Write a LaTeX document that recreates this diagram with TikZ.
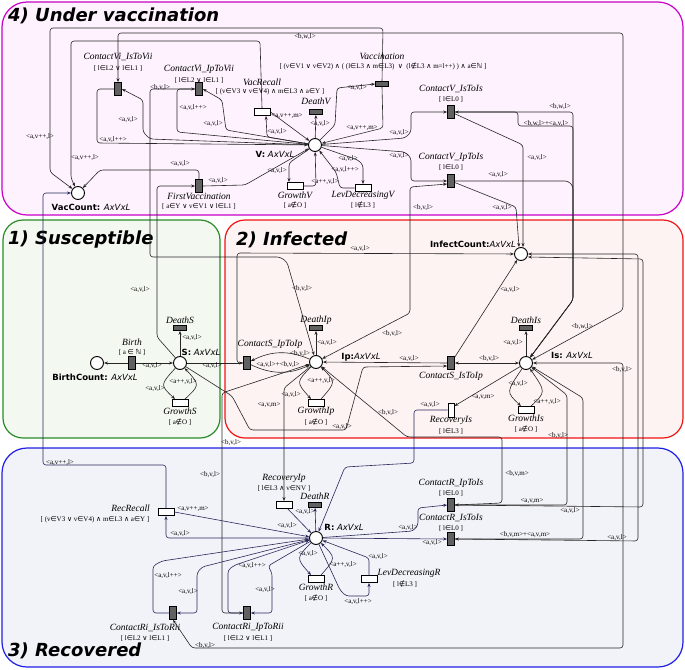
\documentclass[tikz,border=0pt]{standalone}
\usepackage{fontspec}
\setmainfont{Liberation Serif}
\setsansfont{DejaVu Sans}
\newfontfamily\symf{DejaVu Sans}
\usetikzlibrary{arrows.meta}
\newcommand{\xIn}{{\symf ∈}}
\newcommand{\xNin}{{\symf ∉}}
\newcommand{\xOr}{{\symf ∨}}
\newcommand{\xAnd}{{\symf ∧}}
\newcommand{\xNat}{{\symf ℕ}}
\newcommand{\AL}[3]{\node[al] (#1) at (#2) {#3};}
\definecolor{mag}{RGB}{200,0,200}
\definecolor{magf}{RGB}{253,242,253}
\definecolor{grn}{RGB}{40,140,40}
\definecolor{grnf}{RGB}{243,248,241}
\definecolor{rd}{RGB}{240,20,20}
\definecolor{rdf}{RGB}{253,243,243}
\definecolor{bl}{RGB}{30,30,230}
\definecolor{blf}{RGB}{242,242,249}
\definecolor{nav}{RGB}{40,40,90}
\begin{document}
\begin{tikzpicture}[x=1pt,y=-1pt,>={Stealth[length=4pt,width=3pt]},
 every node/.style={inner sep=0pt},
 pl/.style={circle,draw,fill=white,line width=0.9pt,minimum size=13pt},
 tv/.style={draw,fill=black!62,line width=0.7pt,minimum width=7pt,minimum height=13pt},
 th/.style={draw,fill=black!62,line width=0.7pt,minimum width=13pt,minimum height=5pt},
 tw/.style={draw,fill=white,line width=0.9pt,minimum width=16pt,minimum height=7pt},
 twv/.style={draw,fill=white,line width=0.9pt,minimum width=6pt,minimum height=14pt},
 cn/.style={->,draw=black!85,line width=0.6pt,rounded corners=3pt},
 cnb/.style={<->,draw=black!85,line width=0.6pt,rounded corners=3pt},
 cr/.style={cn,draw=nav},
 crb/.style={cnb,draw=nav},
 al/.style={font=\fontsize{7}{7}\selectfont},
 tn/.style={font=\fontsize{9.5}{9.5}\selectfont\itshape},
 gd/.style={font=\fontsize{7}{7}\selectfont},
 pn/.style={font=\sffamily\fontsize{8.5}{8.5}\selectfont},
 ttl/.style={font=\sffamily\bfseries\itshape\fontsize{18}{18}\selectfont,anchor=west}]
\useasboundingbox (0,0) rectangle (685,669);
% regions
\draw[draw=mag,fill=magf,line width=1.2pt,rounded corners=25pt] (2,2) rectangle (683,215);
\draw[draw=grn,fill=grnf,line width=1.2pt,rounded corners=20pt] (3,220) rectangle (220,438);
\draw[draw=rd,fill=rdf,line width=1.2pt,rounded corners=20pt] (225,220) rectangle (683,438);
\draw[draw=bl,fill=blf,line width=1.2pt,rounded corners=25pt] (2,448) rectangle (683,667);
\node[ttl] (t4) at (8,16) {4) Under vaccination};
\node[ttl] (t1) at (8,240) {1) Susceptible};
\node[ttl] (t2) at (236,240) {2) Infected};
\node[ttl] (t3) at (8,651) {3) Recovered};
% places
\node[pl] (V) at (315,145) {};
\node[pl] (VacCount) at (78,193) {};
\node[pl] (S) at (180,363) {};
\node[pl] (BirthCount) at (97,363) {};
\node[pl] (Ip) at (316,362) {};
\node[pl] (Is) at (526,363) {};
\node[pl] (InfectCount) at (521,254) {};
\node[pl] (R) at (316,538) {};
% transitions
\node[tv] (cViIs) at (118,89) {};
\node[tv] (cViIp) at (199,89) {};
\node[tw] (VacRecall) at (262,112) {};
\node[th] (DeathV) at (316,112) {};
\node[th] (Vacc) at (382,84) {};
\node[tv] (FirstVacc) at (199,186) {};
\node[tw] (GrowthV) at (295,186) {};
\node[tw] (LevDecV) at (363,188) {};
\node[tv] (cVIs) at (451,112) {};
\node[tv] (cVIp) at (451,181) {};
\node[tv] (Birth) at (132,363) {};
\node[th] (DeathS) at (180,328) {};
\node[tw] (GrowthS) at (180,403) {};
\node[tv] (cSIp) at (247,363) {};
\node[th] (DeathIp) at (316,328) {};
\node[tw] (GrowthIp) at (316,403) {};
\node[tv] (cSIs) at (451,363) {};
\node[th] (DeathIs) at (526,328) {};
\node[tw] (GrowthIs) at (526,410) {};
\node[twv] (RecIs) at (451,410) {};
\node[tw] (RecIp) at (284,505) {};
\node[th] (DeathR) at (315,505) {};
\node[tw] (RecRecall) at (166,512) {};
\node[tw] (GrowthR) at (316,579) {};
\node[tw] (LevDecR) at (369,579) {};
\node[tv] (cRiIs) at (173,613) {};
\node[tv] (cRiIp) at (247,613) {};
\node[tv] (cRIp) at (451,505) {};
\node[tv] (cRIs) at (451,539) {};
% ---- connectors: region 4
\draw[cn] (V) -- (150,139) -- (143,132) -- (143,100) -- (cViIs.east);
\draw[cn] (cViIs.west) -- (97,89) -- (97,143) -- (V);
\draw[cnb] (Is) -- (623,310) -- (623,33) -- (118,33) -- (cViIs.north);
\draw[cn] (cViIp.west) -- (177,89) -- (177,132) -- (V);
\draw[cn] (V) -- (226,130) -- (222,100) -- (cViIp.east);
\draw[cnb] (Ip) -- (287,262) -- (280,257) -- (150,257) -- (150,89) -- (cViIp.west);
\draw[cn] (V) -- (335,125) -- (337,88) -- (Vacc.west);
\draw[cn] (Vacc.south) -- (383,128) -- (V);
\draw[cn] (Vacc.north) -- (383,28) -- (50,28) -- (50,172) -- (VacCount);
\draw[cn] (V) -- (267,137) -- ([xshift=4pt]VacRecall.south);
\draw[cn] (VacRecall.east) -- (V);
\draw[cn] (VacRecall.north) -- (260,41) -- (71,41) -- (71,178) -- (VacCount);
\draw[cn] (V) -- (DeathV);
\draw[cn] (FirstVacc.east) -- (245,185) -- (V);
\draw[cn] (FirstVacc.north) -- (199,170) -- (100,170) -- (VacCount);
\draw[cn] (S) -- (157,337) -- (157,186) -- (FirstVacc.west);
\draw[cn] (V) -- (289,163) -- ([xshift=-6pt]GrowthV.north);
\draw[cn] (GrowthV.east) -- (316,186) -- (V);
\draw[cn] (V) -- (358,160) -- (363,165) -- (LevDecV.north);
\draw[cn] (LevDecV.west) -- (340,188) -- (336,172) -- (V);
\draw[cn] (V) -- (405,138) -- (411,132) -- (411,112) -- (cVIs.west);
\draw[cnb] (Is) -- (573,300) -- (573,112) -- (cVIs.east);
\draw[cn] (cVIs.east) -- (518,112) -- (518,126) -- (573,126) -- (573,300) -- (Is);
\draw[cn] (cVIs) -- (523,145) -- ([xshift=2pt]InfectCount.north);
\draw[cn] (V) -- (405,152) -- (411,158) -- (411,181) -- (cVIp.west);
\draw[cnb] (Ip) -- (410,313) -- (410,187) -- ([yshift=-3pt]cVIp.west);
\draw[cn] (cVIp.east) -- (568,181) -- (573,186) -- (573,300) -- (Is);
\draw[cn] (cVIp) -- (516,207) -- ([xshift=-2pt]InfectCount.north);
% ---- region 1 / 2
\draw[cn] (Birth) -- (BirthCount);
\draw[cn] (Birth) -- (S);
\draw[cn] (S) -- (DeathS);
\draw[cn] (S) .. controls (160,385) .. ([xshift=-5pt]GrowthS.north);
\draw[cn] ([xshift=5pt]GrowthS.north) .. controls (200,385) .. (S);
\draw[cn] (S) -- (cSIp.west);
\draw[cn] (cSIp.west) -- (237,363) -- (237,253) -- (InfectCount);
\draw[cn] (Ip) to[bend right=25] (cSIp);
\draw[cn] (cSIp) to[bend right=25] (Ip);
\draw[cn] (Ip) -- (DeathIp);
\draw[cn] (Ip) .. controls (296,382) .. ([xshift=-5pt]GrowthIp.north);
\draw[cn] ([xshift=5pt]GrowthIp.north) .. controls (336,382) .. (Ip);
\draw[cn] (cSIs.west) -- (Ip);
\draw[cnb] (Is) -- (cSIs.east);
\draw[cn] (cSIs) -- (InfectCount);
\draw[cn] (S) -- (232,396) -- (250,430) -- (346,430) -- (363,367) -- ([yshift=-3pt]cSIs.west);
\draw[cn] (Is) -- (DeathIs);
\draw[cn] (Is) .. controls (506,392) .. ([xshift=-5pt]GrowthIs.north);
\draw[cn] ([xshift=5pt]GrowthIs.north) .. controls (546,392) .. (Is);
\draw[cn] (Is) -- ([yshift=4pt]RecIs.east);
\draw[cr] (RecIs.west) -- (414,410) -- (414,463) -- (345,467) -- (R);
\draw[cnb] (Is) -- (623,363) -- (623,648) -- (192,648) -- (cRiIs.south);
\draw[cn] (cRIp.east) -- (567,505) -- (567,395) -- (Is);
\draw[cnb] (cRIs.east) -- (583,539) -- (583,398) -- (Is);
\draw[cn] (cRIp.east) -- (643,507) -- (643,259) -- ([yshift=-3pt]InfectCount.east);
\draw[cn] (cRIs.east) -- (638,541) -- (638,254) -- (InfectCount.east);
\draw[cnb] (Ip) -- (407,437) -- (502,437) -- (502,503) -- (cRIp.east);
\draw[cn] (Ip) -- (284,388) -- (RecIp.north);
\draw[cnb] (Ip) -- (222,393) -- (222,613) -- (cRiIp.west);
% ---- region 3
\draw[cr] (RecIp) -- (R);
\draw[cr] (R) -- (DeathR);
\draw[cr] (RecRecall.east) -- (R);
\draw[cr] (R) -- (166,538) -- (RecRecall.south);
\draw[cr] (RecRecall.north) -- (166,465) -- (43,465) -- (43,193) -- (VacCount);
\draw[cr] (R) .. controls (296,558) .. ([xshift=-5pt]GrowthR.north);
\draw[cr] ([xshift=5pt]GrowthR.north) .. controls (336,558) .. (R);
\draw[cr] (R) -- (340,590) -- (346,596) -- (369,596) -- (LevDecR.south);
\draw[cr] (LevDecR.north) -- (369,558) -- (R);
\draw[cr] (cRiIs.west) -- (153,613) -- (153,566) -- (162,561) -- (R);
\draw[cr] (R) -- (202,567) -- (197,573) -- (197,613) -- (cRiIs.east);
\draw[cr] (cRiIp.west) -- (228,613) -- (228,570) -- (235,565) -- (R);
\draw[cr] (R) -- (268,566) -- (272,573) -- (272,613) -- (cRiIp.east);
\draw[cr] (R) -- (413,531) -- (418,525) -- (418,508) -- (cRIp.west);
\draw[cr] (R) -- (cRIs.west);
% ---- transition names and guards
\node[tn] (n1) at (118,57) {ContactVi\_IsToVii};
\node[gd] (g1) at (118,68) {[ l\xIn L2 \xOr{} l\xIn L1 ]};
\node[tn] (n2) at (199,69) {ContactVi\_IpToVii};
\node[gd] (g2) at (199,80) {[ l\xIn L2 \xOr{} l\xIn L1 ]};
\node[tn] (n3) at (262,82) {VacRecall};
\node[gd] (g3) at (270,92) {[ (v\xIn V3 \xOr{} v\xIn V4) \xAnd{} m\xIn L3 \xAnd{} a\xIn Y ]};
\node[tn] (n4) at (316,101) {DeathV};
\node[tn] (n5) at (382,56) {Vaccination};
\node[gd] (g5) at (383,66.5) {[ (v\xIn V1 \xOr{} v\xIn V2) \xAnd{} ( (l\xIn L3 \xAnd{} m\xIn L3) \ \xOr\ \ (l\xNin L3 \xAnd{} m=l++) ) \xAnd{} a\xIn\xNat{} ]};
\node[tn] (n6) at (199,196) {FirstVaccination};
\node[gd] (g6) at (199,206.5) {[ a\xIn Y \xOr{} v\xIn V1 \xOr{} l\xIn L1 ]};
\node[tn] (n7) at (295,195) {GrowthV};
\node[gd] (g7) at (295,205.5) {[ a\xNin O ]};
\node[tn] (n8) at (363,195) {LevDecreasingV};
\node[gd] (g8) at (363,205.5) {[ l\xNin L3 ]};
\node[tn] (n9) at (451,89) {ContactV\_IsToIs};
\node[gd] (g9) at (451,99.5) {[ l\xIn L0 ]};
\node[tn] (n10) at (451,157) {ContactV\_IpToIs};
\node[gd] (g10) at (451,167.5) {[ l\xIn L0 ]};
\node[tn] (n11) at (132,342) {Birth};
\node[gd] (g11) at (132,352.5) {[ a \xIn{} \xNat{} ]};
\node[tn] (n12) at (180,320) {DeathS};
\node[tn] (n13) at (180,411.5) {GrowthS};
\node[gd] (g13) at (180,422) {[ a\xNin O ]};
\node[tn] (n14) at (270,344) {ContactS\_IpToIp};
\node[tn] (n15) at (316,320) {DeathIp};
\node[tn] (n16) at (316,411.5) {GrowthIp};
\node[gd] (g16) at (316,422) {[ a\xNin O ]};
\node[tn] (n17) at (451,376) {ContactS\_IsToIp};
\node[tn] (n18) at (526,320) {DeathIs};
\node[tn] (n19) at (526,418.5) {GrowthIs};
\node[gd] (g19) at (526,429) {[ a\xNin O ]};
\node[tn] (n20) at (451,420.5) {RecoveryIs};
\node[gd] (g20) at (451,431) {[ l\xIn L3 ]};
\node[tn] (n21) at (284,478) {RecoveryIp};
\node[gd] (g21) at (284,488.5) {[ l\xIn L3 \xAnd{} v\xIn NV ]};
\node[tn] (n22) at (315,496) {DeathR};
\node[tn,anchor=east] (n23) at (150,508) {RecRecall};
\node[gd] (g23) at (95,520) {[ (v\xIn V3 \xOr{} v\xIn V4) \xAnd{} m\xIn L3 \xAnd{} a\xIn Y ]};
\node[tn] (n24) at (316,587.5) {GrowthR};
\node[gd] (g24) at (316,598) {[ a\xNin O ]};
\node[tn] (n25) at (409,573) {LevDecreasingR};
\node[gd] (g25) at (405,584) {[ l\xNin L3 ]};
\node[tn] (n26) at (145,627.5) {ContactRi\_IsToRii};
\node[gd] (g26) at (145,638.5) {[ l\xIn L2 \xOr{} l\xIn L1 ]};
\node[tn] (n27) at (248,627.5) {ContactRi\_IpToRii};
\node[gd] (g27) at (248,638.5) {[ l\xIn L2 \xOr{} l\xIn L1 ]};
\node[tn] (n28) at (451,483) {ContactR\_IpToIs};
\node[gd] (g28) at (451,493.5) {[ l\xIn L0 ]};
\node[tn] (n29) at (451,518) {ContactR\_IsToIs};
\node[gd] (g29) at (451,528.5) {[ l\xIn L0 ]};
% ---- place labels
\node[pn] (p1) at (275,154) {\textbf{V:} \textit{AxVxL}};
\node[pn] (p2) at (91,207) {\textbf{VacCount:} \textit{AxVxL}};
\node[pn] (p3) at (201,352) {\textbf{S:} \textit{AxVxL}};
\node[pn] (p4) at (95,377) {\textbf{BirthCount:} \textit{AxVxL}};
\node[pn] (p5) at (361,357) {\textbf{Ip:}\textit{AxVxL}};
\node[pn] (p6) at (572,355) {\textbf{Is:} \textit{AxVxL}};
\node[pn] (p7) at (473,244) {\textbf{InfectCount:}\textit{AxVxL}};
\node[pn] (p8) at (344,527) {\textbf{R:} \textit{AxVxL}};
% ---- arc labels
\AL{a1}{305,37}{<b,w,l>}
\AL{a2}{160,88}{<b,v,l>}
\AL{a3}{128,120}{<a,v,l>}
\AL{a4}{113,140}{<a,v,l++>}
\AL{a5}{193,108}{<a,v,l++>}
\AL{a6}{213,124}{<a,v,l>}
\AL{a7}{40,137}{<a,v++,l>}
\AL{a8}{85,158}{<a,v++,l>}
\AL{a9}{180,164}{<a,v,l>}
\AL{a10}{218,181}{<a,v,l>}
\AL{a11}{277,132}{<a,v,l>}
\AL{a12}{287,116}{<a,v++,m>}
\AL{a13}{320,124}{<a,v,l>}
\AL{a14}{357,88}{<a,v,l>}
\AL{a15}{362,128}{<a,v++,m>}
\AL{a16}{399,133}{<a,v,l>}
\AL{a17}{399,156}{<a,v,l>}
\AL{a18}{560,107}{<b,w,l>}
\AL{a19}{546,124}{<b,w,l>+<a,v,l>}
\AL{a20}{537,158}{<a,v,l>}
\AL{a21}{498,175}{<a,v,l>}
\AL{a22}{502,208}{<a,v,l>}
\AL{a23}{423,208}{<b,v,l>}
\AL{a24}{277,171}{<a,v,l>}
\AL{a25}{325,182}{<a++,v,l>}
\AL{a26}{348,159}{<a,v,l>}
\AL{a27}{345,170}{<a,v,l++>}
\AL{a28}{140,290}{<a,v,l>}
\AL{a29}{192,338}{<a,v,l>}
\AL{a30}{152,366}{<a,v,l>}
\AL{a31}{183,382}{<a++,v,l>}
\AL{a32}{155,389}{<a,v,l>}
\AL{a33}{212,366}{<a,v,l>}
\AL{a34}{360,249}{<a,v,l>}
\AL{a35}{302,289}{<b,v,l>}
\AL{a36}{300,354}{<b,v,l>}
\AL{a37}{278,365}{<a,v,l>+<b,v,l>}
\AL{a38}{327,343}{<a,v,l>}
\AL{a39}{321,381}{<a++,v,l>}
\AL{a40}{291,395}{<a,v,l>}
\AL{a41}{269,405}{<a,v,m>}
\AL{a42}{342,427}{<a,v,l>}
\AL{a43}{392,334}{<b,v,l>}
\AL{a44}{388,413}{<b,v,l>}
\AL{a45}{409,359}{<a,v,l>}
\AL{a46}{489,359}{<b,v,l>}
\AL{a47}{510,290}{<a,v,l>}
\AL{a48}{582,327}{<b,w,l>}
\AL{a49}{513,343}{<a,v,l>}
\AL{a50}{518,384}{<a,v,l>}
\AL{a51}{547,402}{<a++,v,l>}
\AL{a52}{483,397}{<a,v,m>}
\AL{a53}{430,405}{<a,v,l>}
\AL{a54}{622,370}{<b,v,l>}
\AL{a55}{558,436}{<b,v,l>}
\AL{a56}{231,443}{<b,v,l>}
\AL{a57}{60,463}{<a,v++,l>}
\AL{a58}{210,475}{<b,v,l>}
\AL{a59}{517,474}{<b,v,m>}
\AL{a60}{532,501}{<a,v,m>}
\AL{a61}{570,511}{<a,v,l>}
\AL{a62}{408,528}{<a,v,l>}
\AL{a63}{525,535}{<b,v,m>+<a,v,m>}
\AL{a64}{617,538}{<a,v,l>}
\AL{a65}{432,543}{<a,v,l>}
\AL{a66}{193,509}{<a,v++,m>}
\AL{a67}{180,534}{<a,v,l>}
\AL{a68}{287,526}{<a,v,l>}
\AL{a69}{305,512}{<a,v,l>}
\AL{a70}{308,554}{<a,v,l>}
\AL{a71}{343,565}{<a++,v,l>}
\AL{a72}{378,557}{<a,v,l>}
\AL{a73}{358,602}{<a,v,l++>}
\AL{a74}{168,576}{<a,v,l++>}
\AL{a75}{188,592}{<a,v,l>}
\AL{a76}{252,566}{<a,v,l++>}
\AL{a77}{265,590}{<a,v,l>}
\AL{a78}{205,646}{<b,v,l>}
\end{tikzpicture}
\end{document}
